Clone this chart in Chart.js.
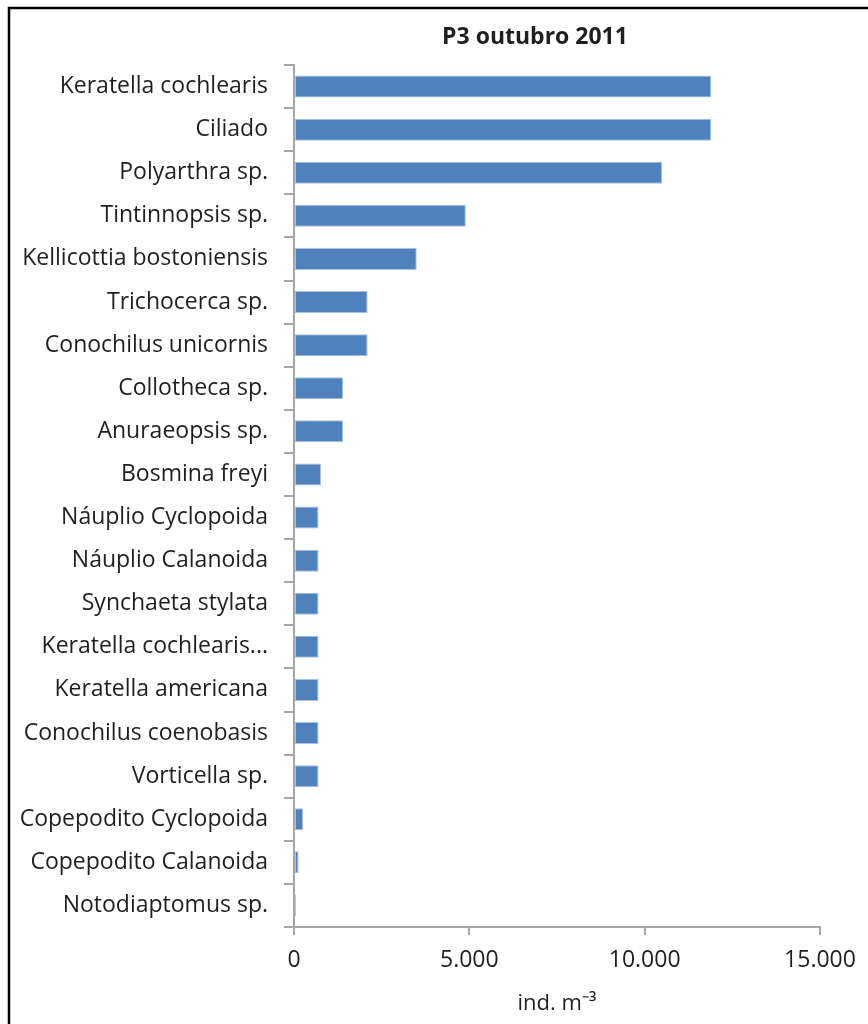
<!DOCTYPE html>
<html>
<head>
<meta charset="utf-8">
<script src="https://cdn.jsdelivr.net/npm/chart.js@4.4.1/dist/chart.umd.min.js"></script>
<style>
  body { margin: 0; background: #fff; }
  canvas { display: block; }
</style>
</head>
<body>
<canvas id="myChart" width="868" height="1024"></canvas>
<script>
'use strict';

const especies = [
    'Keratella cochlearis',
    'Ciliado',
    'Polyarthra sp.',
    'Tintinnopsis sp.',
    'Kellicottia bostoniensis',
    'Trichocerca sp.',
    'Conochilus unicornis',
    'Collotheca sp.',
    'Anuraeopsis sp.',
    'Bosmina freyi',
    'Náuplio Cyclopoida',
    'Náuplio Calanoida',
    'Synchaeta stylata',
    'Keratella cochlearis...',
    'Keratella americana',
    'Conochilus coenobasis',
    'Vorticella sp.',
    'Copepodito Cyclopoida',
    'Copepodito Calanoida',
    'Notodiaptomus sp.'
];
const densidade = [
    11900, 11900, 10500, 4900, 3500, 2100, 2100, 1400, 1400, 770,
    700, 700, 700, 700, 700, 700, 700, 260, 130, 55
];
const xTicks = [0, 5000, 10000, 15000];

const titulo = 'P3 outubro 2011';
const unidade = 'ind. m⁻³';

const fonte = "'Open Sans', sans-serif";
const corTexto = '#1f1f1f';
const corEixo = '#a6a6a6';

// moldura e titulo do grafico
const molduraPlugin = {
    id: 'moldura',
    afterDraw(chart) {
        const ctx = chart.ctx;
        ctx.save();
        ctx.strokeStyle = '#000';
        ctx.lineWidth = 2.5;
        ctx.beginPath();
        ctx.moveTo(9, chart.height);
        ctx.lineTo(9, 8);
        ctx.lineTo(chart.width, 8);
        ctx.stroke();

        ctx.fillStyle = corTexto;
        ctx.font = "bold 23px " + fonte;
        ctx.textAlign = 'center';
        ctx.textBaseline = 'middle';
        ctx.fillText(titulo, 535, 37);
        ctx.restore();
    }
};

const config = {
    type: 'bar',
    data: {
        labels: especies,
        datasets: [{
            label: titulo,
            data: densidade,
            backgroundColor: '#4f81bd',
            borderColor: '#a9c1e2',
            borderWidth: 1,
            borderSkipped: false,
            barPercentage: 0.51,
            categoryPercentage: 1
        }]
    },
    options: {
        indexAxis: 'y',
        responsive: false,
        animation: false,
        layout: {
            padding: { top: 65, left: 10, right: 48, bottom: 0 }
        },
        plugins: {
            legend: { display: false },
            tooltip: { enabled: false }
        },
        scales: {
            y: {
                afterFit(scale) { scale.width = 284; },
                border: { color: corEixo, width: 2 },
                grid: {
                    drawOnChartArea: false,
                    drawTicks: true,
                    tickLength: 10,
                    color: corEixo,
                    lineWidth: 2
                },
                ticks: {
                    padding: 16,
                    color: corTexto,
                    font: { family: fonte, size: 23 }
                }
            },
            x: {
                min: 0,
                max: 15000,
                afterFit(scale) { scale.height = 97; },
                afterBuildTicks(scale) {
                    scale.ticks = xTicks.map(v => ({ value: v }));
                },
                border: { color: corEixo, width: 2 },
                grid: {
                    drawOnChartArea: false,
                    drawTicks: true,
                    tickLength: 8,
                    color: corEixo,
                    lineWidth: 2
                },
                ticks: {
                    padding: 12,
                    color: corTexto,
                    font: { family: fonte, size: 23 },
                    callback: v => String(v).replace(/\B(?=(\d{3})+(?!\d))/g, '.')
                },
                title: {
                    display: true,
                    text: unidade,
                    color: corTexto,
                    font: { family: fonte, size: 22 },
                    padding: { top: 0, bottom: 7 }
                }
            }
        }
    },
    plugins: [molduraPlugin]
};

let myChart = new Chart(
    document.getElementById('myChart'),
    config
);
</script>
</body>
</html>
